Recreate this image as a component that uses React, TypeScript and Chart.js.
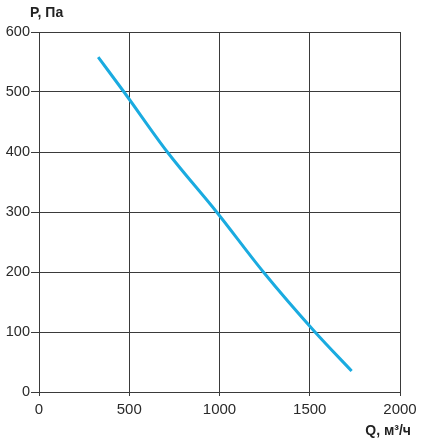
import React, { useEffect, useRef } from "react";
import { Chart, registerables } from "chart.js";

Chart.register(...registerables);

const flowQ = [328, 471, 711, 984, 1243, 1529, 1732];
const pressureP = [558, 500, 400, 300, 200, 100, 35];
const xTicks = [0, 500, 1000, 1500, 2000];
const yTicks = [0, 100, 200, 300, 400, 500, 600];
const yTitle = "P, Па";
const xTitle = "Q, м³/ч";

const FONT = "'Liberation Sans', Arial, sans-serif";

const titlesPlugin = {
  id: "axisTitles",
  afterDraw(chart: any) {
    const { ctx, chartArea } = chart;
    ctx.save();
    ctx.fillStyle = "#222";
    ctx.font = `bold 14px ${FONT}`;
    ctx.textBaseline = "middle";
    ctx.textAlign = "left";
    ctx.fillText(yTitle, chartArea.left - 9, chartArea.top - 19);
    ctx.textAlign = "right";
    ctx.fillText(xTitle, chart.width - 17, chartArea.bottom + 39);
    ctx.restore();
  },
};

export default function App() {
  const ref = useRef<HTMLCanvasElement>(null);
  useEffect(() => {
    if (!ref.current) return;
    const chart = new Chart(ref.current, {
      type: "line",
      data: {
        datasets: [
          {
            data: flowQ.map((q, i) => ({ x: q, y: pressureP[i] })),
            borderColor: "#1AABE0",
            borderWidth: 3,
            pointRadius: 0,
            cubicInterpolationMode: "monotone",
            fill: false,
          },
        ],
      },
      options: {
        animation: false,
        responsive: false,
        layout: { padding: { top: 32, right: 28, left: 0, bottom: 0 } },
        plugins: { legend: { display: false }, tooltip: { enabled: false } },
        scales: {
          x: {
            type: "linear",
            min: 0,
            max: 2000,
            afterBuildTicks: (s: any) => {
              s.ticks = xTicks.map((v) => ({ value: v }));
            },
            afterFit: (s: any) => {
              s.height = 48;
            },
            grid: { color: "#3a3a3a", lineWidth: 1, tickLength: 4 },
            border: { color: "#3a3a3a", width: 1 },
            ticks: {
              color: "#2a2a2a",
              font: { family: FONT, size: 15 },
              padding: 5,
              maxRotation: 0,
              callback: (v: any) => String(v),
            },
          },
          y: {
            type: "linear",
            min: 0,
            max: 600,
            afterBuildTicks: (s: any) => {
              s.ticks = yTicks.map((v) => ({ value: v }));
            },
            afterFit: (s: any) => {
              s.width = 39;
            },
            grid: { color: "#3a3a3a", lineWidth: 1, tickLength: 8 },
            border: { color: "#3a3a3a", width: 1 },
            ticks: {
              color: "#2a2a2a",
              font: { family: FONT, size: 14.5 },
              padding: 1,
              callback: (v: any) => String(v),
            },
          },
        },
      },
      plugins: [titlesPlugin],
    });
    return () => chart.destroy();
  }, []);
  return (
    <div style={{ position: "absolute", left: 0, top: 0, width: 428, height: 440, background: "#fff" }}>
      <canvas ref={ref} width={428} height={440} style={{ width: 428, height: 440 }} />
    </div>
  );
}
